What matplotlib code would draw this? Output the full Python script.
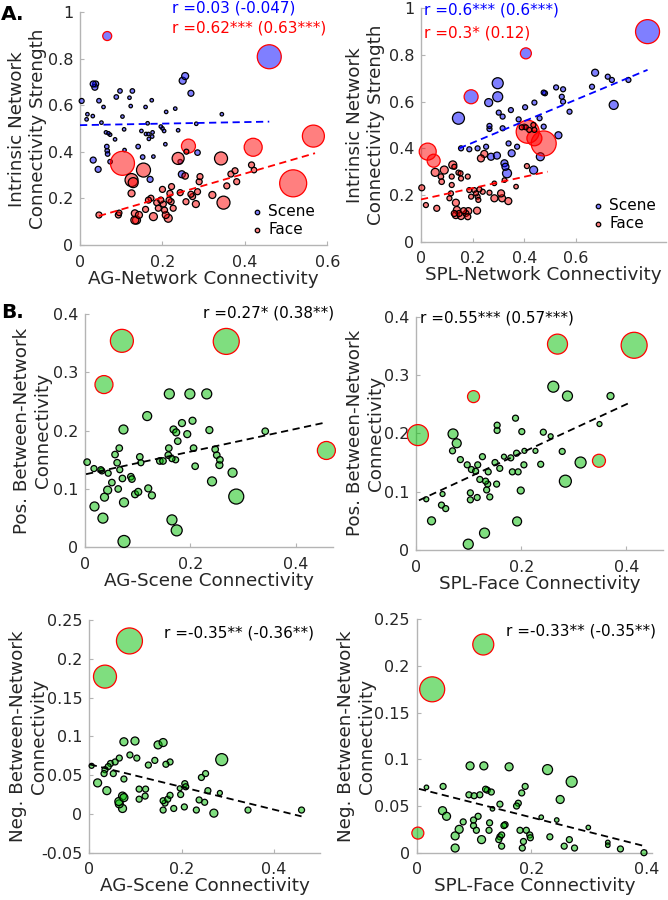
import matplotlib
matplotlib.use("Agg")
import matplotlib.pyplot as plt
import numpy as np

# ---------------- data ----------------
# panel A left: AG-network connectivity vs intrinsic network strength
ag_scene_x = [0.004, 0.018, 0.016, 0.031, 0.032, 0.038, 0.036, 0.032, 0.044, 0.046, 0.052, 0.057,
              0.063, 0.065, 0.066, 0.067, 0.069, 0.073, 0.073, 0.085, 0.088, 0.097, 0.103, 0.107,
              0.108, 0.120, 0.123, 0.127, 0.141, 0.149, 0.152, 0.159, 0.160, 0.166, 0.164, 0.167,
              0.170, 0.174, 0.175, 0.176, 0.178, 0.196, 0.200, 0.204, 0.207, 0.209, 0.231, 0.238,
              0.249, 0.255, 0.247, 0.269, 0.243, 0.285, 0.282, 0.344, 0.459, 0.066]
ag_scene_y = [0.619, 0.562, 0.540, 0.554, 0.692, 0.692, 0.678, 0.365, 0.325, 0.620, 0.526, 0.593,
              0.484, 0.423, 0.405, 0.391, 0.480, 0.474, 0.358, 0.454, 0.636, 0.662, 0.552, 0.497,
              0.408, 0.633, 0.597, 0.662, 0.423, 0.490, 0.378, 0.593, 0.477, 0.477, 0.523, 0.456,
              0.282, 0.622, 0.466, 0.484, 0.380, 0.509, 0.501, 0.490, 0.433, 0.572, 0.586, 0.493,
              0.706, 0.726, 0.304, 0.652, 0.358, 0.397, 0.521, 0.562, 0.809, 0.898]
ag_scene_w = [5, 3.5, 3.5, 3.5, 6, 6, 6, 6, 6, 4.5, 3.5, 3.5,
              3.5, 4.5, 4.5, 4.5, 3.5, 3.5, 4.5, 3.5, 4.5, 4.5, 3.5, 3.5,
              3.5, 3.5, 3.5, 4.5, 4.5, 3.5, 4.5, 3.5, 3.5, 3.5, 3.5, 3.5,
              6, 3.5, 3.5, 3.5, 3.5, 3.5, 3.5, 3.5, 3.5, 3.5, 3.5, 3.5,
              7, 7, 7, 6, 4.5, 5.5, 3.5, 3.5, 24, 9]
ag_scene_out = [56, 57]

ag_face_x = [0.046, 0.093, 0.095, 0.103, 0.125, 0.129, 0.125, 0.133, 0.133, 0.137, 0.143, 0.154,
             0.159, 0.166, 0.172, 0.178, 0.186, 0.190, 0.196, 0.200, 0.202, 0.205, 0.208, 0.214,
             0.216, 0.218, 0.221, 0.222, 0.226, 0.238, 0.243, 0.255, 0.257, 0.263, 0.258, 0.269,
             0.273, 0.281, 0.285, 0.289, 0.291, 0.321, 0.342, 0.348, 0.356, 0.366, 0.376, 0.380,
             0.416, 0.422, 0.420, 0.517, 0.566]
ag_face_y = [0.129, 0.129, 0.138, 0.351, 0.279, 0.268, 0.222, 0.136, 0.107, 0.107, 0.129, 0.322,
             0.153, 0.193, 0.201, 0.122, 0.182, 0.158, 0.193, 0.239, 0.176, 0.150, 0.129, 0.115,
             0.193, 0.222, 0.186, 0.251, 0.158, 0.372, 0.225, 0.297, 0.186, 0.425, 0.401, 0.218,
             0.208, 0.176, 0.229, 0.272, 0.294, 0.215, 0.372, 0.182, 0.254, 0.305, 0.319, 0.272,
             0.344, 0.322, 0.420, 0.265, 0.468]
ag_face_w = [6, 6, 5.5, 24, 13, 10, 7, 7, 8, 8, 7, 14,
             6, 6, 6, 8, 6, 6, 6, 6, 6, 6, 7, 8,
             6, 6, 6, 6, 6, 12, 6, 6.5, 6, 14, 5, 6,
             6, 7, 6, 6, 6, 7, 13, 13, 6, 6, 6, 6,
             6, 5.5, 18, 27, 22]
ag_face_out = [3, 33, 50, 51, 52]

# panel A right: SPL-network connectivity vs intrinsic network strength
spl_scene_x = [0.877, 0.406, 0.194, 0.145, 0.297, 0.297, 0.262, 0.155, 0.187, 0.219, 0.252, 0.265,
               0.265, 0.271, 0.294, 0.301, 0.316, 0.316, 0.323, 0.327, 0.333, 0.339, 0.348, 0.351,
               0.372, 0.378, 0.403, 0.400, 0.439, 0.475, 0.480, 0.475, 0.462, 0.436, 0.523, 0.550,
               0.545, 0.550, 0.532, 0.575, 0.459, 0.662, 0.674, 0.723, 0.739, 0.803, 0.746]
spl_scene_y = [0.900, 0.807, 0.621, 0.529, 0.679, 0.621, 0.596, 0.400, 0.396, 0.400, 0.407, 0.496,
               0.483, 0.364, 0.369, 0.553, 0.536, 0.486, 0.336, 0.321, 0.293, 0.421, 0.564, 0.379,
               0.407, 0.524, 0.576, 0.493, 0.596, 0.639, 0.636, 0.493, 0.364, 0.307, 0.661, 0.653,
               0.621, 0.600, 0.456, 0.557, 0.529, 0.664, 0.724, 0.707, 0.693, 0.693, 0.586]
spl_scene_w = [24, 11, 14, 12, 11, 10, 8, 5, 5, 5, 5, 5,
               5, 7, 7, 5, 5, 5, 7, 7, 9, 5, 5, 7,
               5, 5, 5, 5, 5, 5, 5, 5, 8, 8, 5, 5,
               5, 5, 7, 5, 5, 5, 7, 5, 5, 5, 9]
spl_scene_out = [0, 1, 2]

spl_face_x = [0.026, 0.049, 0.055, 0.003, 0.019, 0.061, 0.090, 0.077, 0.080, 0.123, 0.119, 0.119,
              0.129, 0.145, 0.153, 0.155, 0.181, 0.116, 0.110, 0.135, 0.139, 0.148, 0.155, 0.174,
              0.181, 0.135, 0.129, 0.165, 0.183, 0.187, 0.194, 0.206, 0.213, 0.219, 0.222, 0.226,
              0.217, 0.232, 0.245, 0.239, 0.265, 0.284, 0.310, 0.314, 0.338, 0.284, 0.323, 0.368,
              0.410, 0.413, 0.439, 0.475, 0.390, 0.406, 0.419, 0.435, 0.439]
spl_face_y = [0.386, 0.347, 0.297, 0.231, 0.157, 0.143, 0.307, 0.279, 0.257, 0.329, 0.279, 0.243,
              0.321, 0.296, 0.293, 0.271, 0.279, 0.207, 0.186, 0.167, 0.136, 0.121, 0.110, 0.121,
              0.107, 0.114, 0.121, 0.133, 0.131, 0.221, 0.193, 0.221, 0.207, 0.193, 0.179, 0.224,
              0.133, 0.357, 0.376, 0.214, 0.210, 0.186, 0.207, 0.186, 0.174, 0.250, 0.264, 0.236,
              0.324, 0.471, 0.443, 0.421, 0.490, 0.490, 0.479, 0.500, 0.479]
spl_face_w = [17, 13, 8, 6, 5, 6, 8, 5.5, 5.5, 8, 5, 5,
              5, 5, 5, 5, 5, 5, 5, 7, 7, 6, 7, 6,
              6, 7, 6, 6, 7, 5, 5, 5, 5, 5, 5, 5,
              7, 7, 7, 5, 5, 7, 7, 7, 7, 4.5, 4.5, 4.5,
              5, 23, 15, 25, 5, 5, 5, 5, 5]
spl_face_out = [0, 1, 49, 50, 51]

# panel B top left: AG-Scene vs positive between-network connectivity
bpl_x = [0.070, 0.268, 0.036, 0.458, 0.160, 0.199, 0.231, 0.118, 0.073, 0.184, 0.204, 0.168,
         0.173, 0.194, 0.236, 0.342, 0.176, 0.159, 0.206, 0.247, 0.250, 0.256, 0.255, 0.158,
         0.165, 0.172, 0.142, 0.148, 0.209, 0.280, 0.241, 0.287, 0.004, 0.017, 0.030, 0.032,
         0.044, 0.057, 0.061, 0.065, 0.066, 0.071, 0.051, 0.087, 0.089, 0.063, 0.043, 0.037,
         0.018, 0.034, 0.074, 0.101, 0.095, 0.104, 0.106, 0.120, 0.127, 0.165, 0.174, 0.074]
bpl_y = [0.354, 0.353, 0.279, 0.166, 0.263, 0.263, 0.263, 0.225, 0.202, 0.213, 0.217, 0.202,
         0.197, 0.194, 0.201, 0.199, 0.182, 0.170, 0.170, 0.168, 0.158, 0.150, 0.141, 0.158,
         0.152, 0.150, 0.148, 0.148, 0.139, 0.128, 0.113, 0.087, 0.146, 0.135, 0.133, 0.131,
         0.127, 0.159, 0.145, 0.170, 0.133, 0.118, 0.111, 0.121, 0.117, 0.100, 0.098, 0.086,
         0.070, 0.050, 0.077, 0.095, 0.091, 0.155, 0.145, 0.101, 0.089, 0.047, 0.029, 0.010]
bpl_w = [23, 26, 18, 18, 10, 10, 10, 9, 9, 7, 7, 7,
         7, 7, 7, 6.5, 6.5, 6.5, 6.5, 6.5, 6.5, 6.5, 7, 6.5,
         6, 6, 6.5, 6.5, 6.5, 9, 9, 15, 6.5, 6, 6, 6,
         6, 6.5, 6.5, 6.5, 6, 6.5, 6.5, 6.5, 6.5, 6.5, 8, 8,
         9, 10, 9, 7, 7, 6.5, 6, 7, 7, 10, 11, 12]
bpl_out = [0, 1, 2, 3]

# panel B top right: SPL-Face vs positive between-network connectivity
bpr_x = [0.415, 0.269, 0.109, 0.003, 0.348, 0.261, 0.288, 0.370, 0.189, 0.154, 0.154, 0.201,
         0.242, 0.256, 0.349, 0.070, 0.077, 0.069, 0.084, 0.126, 0.167, 0.180, 0.191, 0.206,
         0.227, 0.278, 0.313, 0.150, 0.159, 0.205, 0.237, 0.097, 0.105, 0.117, 0.113, 0.137,
         0.121, 0.132, 0.136, 0.153, 0.183, 0.194, 0.284, 0.134, 0.140, 0.199, 0.103, 0.103,
         0.116, 0.050, 0.019, 0.048, 0.056, 0.029, 0.192, 0.130, 0.099]
bpr_y = [0.351, 0.353, 0.263, 0.197, 0.153, 0.280, 0.264, 0.264, 0.226, 0.214, 0.205, 0.203,
         0.202, 0.195, 0.216, 0.199, 0.183, 0.170, 0.155, 0.160, 0.160, 0.158, 0.166, 0.170,
         0.170, 0.169, 0.150, 0.150, 0.140, 0.146, 0.147, 0.146, 0.138, 0.146, 0.135, 0.134,
         0.121, 0.118, 0.113, 0.113, 0.134, 0.134, 0.118, 0.103, 0.091, 0.102, 0.098, 0.086,
         0.090, 0.096, 0.087, 0.077, 0.071, 0.050, 0.049, 0.029, 0.010]
bpr_w = [26, 20, 12, 21, 13, 11, 10, 7, 6, 6, 6, 6,
         6, 5, 5, 10, 9, 6, 6, 6, 5, 6, 6, 5,
         5, 6, 11, 6, 6, 6, 6, 6, 6, 6, 6, 6,
         6, 6, 6, 6, 6, 6, 12, 6, 6, 7, 6, 6,
         6, 5, 5, 6, 6, 8, 9, 10, 10]
bpr_out = [0, 1, 2, 3, 4]

# panel B bottom left: AG-Scene vs negative between-network connectivity
bnl_x = [0.087, 0.034, 0.287, 0.075, 0.099, 0.149, 0.160, 0.088, 0.103, 0.128, 0.142, 0.166,
         0.175, 0.065, 0.056, 0.046, 0.041, 0.034, 0.032, 0.052, 0.005, 0.018, 0.075, 0.038,
         0.072, 0.075, 0.065, 0.064, 0.072, 0.108, 0.122, 0.108, 0.121, 0.160, 0.164, 0.160,
         0.170, 0.175, 0.183, 0.196, 0.198, 0.207, 0.209, 0.206, 0.232, 0.238, 0.250, 0.243,
         0.252, 0.257, 0.283, 0.270, 0.344, 0.460]
bnl_y = [0.223, 0.177, 0.070, 0.093, 0.094, 0.089, 0.092, 0.076, 0.072, 0.063, 0.069, 0.064,
         0.067, 0.072, 0.067, 0.065, 0.061, 0.057, 0.052, 0.052, 0.062, 0.040, 0.045, 0.030,
         0.023, 0.021, 0.013, 0.016, 0.007, 0.032, 0.032, 0.019, 0.023, 0.017, 0.014, 0.005,
         0.019, 0.024, 0.007, 0.033, 0.025, 0.039, 0.035, 0.009, 0.005, 0.018, 0.015, 0.047,
         0.052, 0.030, 0.027, 0.001, 0.005, 0.005]
bnl_w = [26, 23, 12, 8, 8, 8, 8, 6, 6, 6, 6, 6,
         6, 6, 6, 6, 6, 6, 6, 6, 5, 8, 6, 8,
         8, 8, 8, 8, 8, 6, 6, 6, 6, 6, 6, 6,
         6, 6, 6, 5, 6, 6, 6, 6, 6, 6, 6, 6,
         6, 6, 5, 8, 6, 6]
bnl_out = [0, 1]

# panel B bottom right: SPL-Face vs negative between-network connectivity
bnr_x = [0.116, 0.027, 0.002, 0.093, 0.117, 0.161, 0.228, 0.270, 0.017, 0.046, 0.189, 0.091,
         0.100, 0.110, 0.120, 0.123, 0.130, 0.183, 0.250, 0.177, 0.174, 0.145, 0.132, 0.045,
         0.052, 0.107, 0.081, 0.099, 0.127, 0.217, 0.244, 0.099, 0.152, 0.154, 0.104, 0.074,
         0.067, 0.126, 0.180, 0.191, 0.197, 0.198, 0.145, 0.148, 0.143, 0.113, 0.186, 0.232,
         0.266, 0.299, 0.333, 0.333, 0.148, 0.184, 0.257, 0.275, 0.355, 0.396, 0.067]
bnr_y = [0.223, 0.175, 0.021, 0.093, 0.093, 0.092, 0.089, 0.076, 0.070, 0.071, 0.071, 0.062,
         0.061, 0.062, 0.068, 0.067, 0.065, 0.064, 0.057, 0.053, 0.050, 0.052, 0.047, 0.045,
         0.039, 0.039, 0.033, 0.035, 0.032, 0.038, 0.035, 0.029, 0.029, 0.030, 0.024, 0.025,
         0.018, 0.024, 0.024, 0.024, 0.019, 0.016, 0.017, 0.019, 0.014, 0.014, 0.012, 0.017,
         0.014, 0.027, 0.011, 0.008, 0.007, 0.005, 0.007, 0.005, 0.004, 0.000, 0.005]
bnr_w = [21, 25, 12, 8, 8, 8, 10, 11, 4.5, 6, 6, 6,
         6, 6, 6, 6, 6, 6, 8, 6, 6, 6, 4.5, 8,
         8, 6, 6, 6, 6, 4.5, 4.5, 6, 6, 6, 6, 8,
         8, 6, 6, 6, 6, 6, 6, 6, 6, 8, 6, 6,
         6, 4.5, 4.5, 4.5, 6, 6, 6, 6, 6, 6, 8]
bnr_out = [0, 1, 2]

# fitted lines: (x start, x end, intercept, slope)
fit_ag_scene = (0.0, 0.459, 0.515, 0.033)
fit_ag_face = (0.046, 0.570, 0.101, 0.515)
fit_spl_scene = (0.148, 0.877, 0.332, 0.461)
fit_spl_face = (0.0, 0.49, 0.181, 0.243)
fit_bpl = (0.002, 0.458, 0.125, 0.195)
fit_bpr = (0.005, 0.410, 0.083, 0.417)
fit_bnl = (0.001, 0.460, 0.064, -0.146)
fit_bnr = (0.004, 0.396, 0.069, -0.156)

# ---------------- drawing ----------------
W, H = 668, 900
fig = plt.figure(figsize=(W / 100, H / 100), dpi=100)
plt.rcParams['font.family'] = 'DejaVu Sans'

BLUE = (0, 0, 1, 0.5)
RED = (1, 0, 0, 0.5)
GREEN = (0.0, 0.75, 0.0, 0.5)
FS = 13.2      # axis labels
TFS = 11.5     # tick labels


def px_axes(l, r, t, b):
    return fig.add_axes([l / W, 1 - b / H, (r - l) / W, (b - t) / H])


def style(ax, xlim, ylim, xticks, yticks, xlabel, ylabel, ylab_x):
    ax.set_xlim(*xlim)
    ax.set_ylim(*ylim)
    ax.set_xticks(xticks)
    ax.set_yticks(yticks)
    ax.set_xticklabels(['%g' % v for v in xticks])
    ax.set_yticklabels(['%g' % v for v in yticks])
    for s in ['top', 'right']:
        ax.spines[s].set_visible(False)
    for s in ['left', 'bottom']:
        ax.spines[s].set_color('#b4b4b4')
        ax.spines[s].set_linewidth(1.0)
    ax.tick_params(direction='in', length=3, color='#b4b4b4', labelcolor='#262626',
                   labelsize=TFS)
    ax.tick_params(axis='x', pad=7)
    ax.tick_params(axis='y', pad=5)
    ax.set_xlabel(xlabel, fontsize=FS, color='#262626', labelpad=0)
    ax.set_ylabel(ylabel, fontsize=FS, color='#262626')
    ax.yaxis.set_label_coords(ylab_x, 0.5)
    ax.patch.set_alpha(0)


def scatter(ax, x, y, w, out, face):
    x = np.asarray(x)
    y = np.asarray(y)
    w = np.asarray(w, dtype=float)
    edge = np.array(['k'] * len(x), dtype=object)
    edge[out] = 'r'
    # draw larger markers first so small ones stay visible
    order = np.argsort(-w)
    sizes = (w * 0.72) ** 2
    ax.scatter(x[order], y[order], s=sizes[order], c=[face] * len(x),
               edgecolors=list(edge[order]), linewidths=0.9, zorder=3, clip_on=False)


def fitline(ax, fit, color):
    x0, x1, b, m = fit
    xs = np.array([x0, x1])
    ax.plot(xs, b + m * xs, ls=(0, (4, 2.5)), color=color, lw=1.3, zorder=4)


def legend(ax, anchor):
    h1 = ax.scatter([], [], s=(4.5 * 0.72) ** 2, c=[BLUE], edgecolors='k', linewidths=0.9)
    h2 = ax.scatter([], [], s=(4.5 * 0.72) ** 2, c=[RED], edgecolors='k', linewidths=0.9)
    ax.legend([h1, h2], ['Scene', 'Face'], loc='lower right', bbox_to_anchor=anchor,
              frameon=False, fontsize=11, handletextpad=0.0, labelspacing=0.2,
              borderaxespad=0, borderpad=0, handlelength=1.5, alignment='left')


# A left
ax = px_axes(80, 327.4, 12.3, 245)
scatter(ax, ag_scene_x, ag_scene_y, ag_scene_w, ag_scene_out, BLUE)
scatter(ax, ag_face_x, ag_face_y, ag_face_w, ag_face_out, RED)
fitline(ax, fit_ag_scene, 'b')
fitline(ax, fit_ag_face, 'r')
style(ax, (0, 0.6), (0, 1), [0, 0.2, 0.4, 0.6], [0, 0.2, 0.4, 0.6, 0.8, 1],
      'AG-Network Connectivity', 'Intrinsic Network\nConnectivity Strength', -0.134)
ax.text(0.372, 1.02, 'r =0.03 (-0.047)', color='b', fontsize=11, transform=ax.transAxes,
        va='center', clip_on=False)
ax.text(0.372, 0.931, 'r =0.62*** (0.63***)', color='r', fontsize=11, transform=ax.transAxes,
        va='center')
legend(ax, (0.95, 0.035))
fig.text(1 / W, 1 - 15 / H, 'A.', fontsize=14.5, fontweight='bold', va='center')

# A right
ax = px_axes(421, 666.4, 8.3, 241.7)
scatter(ax, spl_scene_x, spl_scene_y, spl_scene_w, spl_scene_out, BLUE)
scatter(ax, spl_face_x, spl_face_y, spl_face_w, spl_face_out, RED)
fitline(ax, fit_spl_scene, 'b')
fitline(ax, fit_spl_face, 'r')
style(ax, (0, 0.95), (0, 1), [0, 0.2, 0.4, 0.6], [0, 0.2, 0.4, 0.6, 0.8, 1],
      'SPL-Network Connectivity', 'Intrinsic Network\nConnectivity Strength', -0.147)
ax.text(0.012, 0.993, 'r =0.6*** (0.6***)', color='b', fontsize=11, transform=ax.transAxes,
        va='center')
ax.text(0.012, 0.894, 'r =0.3* (0.12)', color='r', fontsize=11, transform=ax.transAxes,
        va='center')
legend(ax, (0.958, 0.046))

# B top left
ax = px_axes(85, 332.7, 314, 547.3)
scatter(ax, bpl_x, bpl_y, bpl_w, bpl_out, GREEN)
fitline(ax, fit_bpl, 'k')
style(ax, (0, 0.47), (0, 0.4), [0, 0.2, 0.4], [0, 0.1, 0.2, 0.3, 0.4],
      'AG-Scene Connectivity', 'Pos. Between-Network\nConnectivity', -0.133)
ax.text(0.476, 1.004, 'r =0.27* (0.38**)', fontsize=11, transform=ax.transAxes, va='center')
fig.text(1 / W, 1 - 312 / H, 'B.', fontsize=14.5, fontweight='bold', va='center')

# B top right
ax = px_axes(416.3, 663, 316.7, 550)
scatter(ax, bpr_x, bpr_y, bpr_w, bpr_out, GREEN)
fitline(ax, fit_bpr, 'k')
style(ax, (0, 0.47), (0, 0.4), [0, 0.2, 0.4], [0, 0.1, 0.2, 0.3, 0.4],
      'SPL-Face Connectivity', 'Pos. Between-Network\nConnectivity', -0.126)
ax.text(0.016, 0.994, 'r =0.55*** (0.57***)', fontsize=11, transform=ax.transAxes, va='center')

# B bottom left
ax = px_axes(89.3, 320, 620, 852.7)
scatter(ax, bnl_x, bnl_y, bnl_w, bnl_out, GREEN)
fitline(ax, fit_bnl, 'k')
style(ax, (0, 0.5), (-0.05, 0.25), [0, 0.2, 0.4], [-0.05, 0, 0.05, 0.1, 0.15, 0.2, 0.25],
      'AG-Scene Connectivity', 'Neg. Between-Network\nConnectivity', -0.18)
ax.text(0.325, 0.944, 'r =-0.35** (-0.36**)', fontsize=11, transform=ax.transAxes, va='center')

# B bottom right
ax = px_axes(416.7, 652, 619.3, 852.7)
scatter(ax, bnr_x, bnr_y, bnr_w, bnr_out, GREEN)
fitline(ax, fit_bnr, 'k')
style(ax, (0, 0.41), (0, 0.25), [0, 0.2, 0.4], [0, 0.05, 0.1, 0.15, 0.2, 0.25],
      'SPL-Face Connectivity', 'Neg. Between-Network\nConnectivity', -0.175)
ax.text(0.379, 0.95, 'r =-0.33** (-0.35**)', fontsize=11, transform=ax.transAxes, va='center')

fig.savefig('out.png', dpi=100)
